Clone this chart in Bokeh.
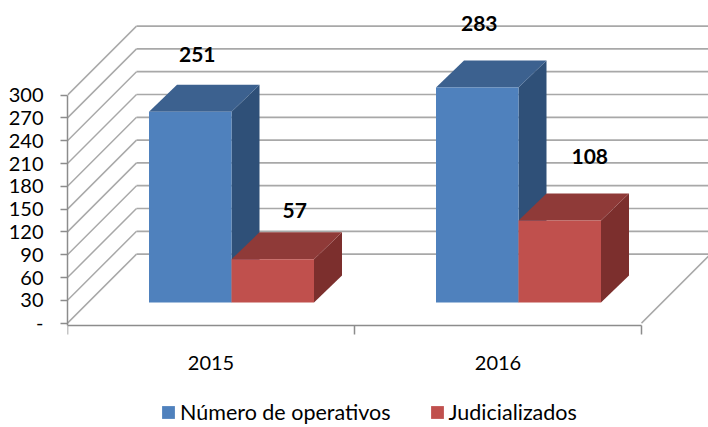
from bokeh.plotting import figure
from bokeh.models import Range1d, FixedTicker, ColumnDataSource, Legend, LegendItem
from bokeh.core.properties import value
from bokeh.embed import file_html
from bokeh.resources import INLINE

years = ["2015", "2016"]
operativos = [251, 283]
judicializados = [57, 108]
y_ticks = [0, 30, 60, 90, 120, 150, 180, 210, 240, 270, 300]
series_names = ["Número de operativos", "Judicializados"]

FONT = "Lato"
# projection, in pixels of the frame
PX_X = 287.0          # pixels per category
PX_Y = 0.76           # pixels per value unit
WALL = 69             # depth of the floor
BAR_DEPTH = (28, 27)
BAR_GAP = 20.5
BAR_W = 82.5 / PX_X

def ox(px): return px / PX_X
def oy(px): return px / PX_Y

frame_w, frame_h = 641, 427
y0 = -2.5
floor_px = 324.5       # frame top to floor line
y_end = y0 + floor_px / PX_Y
p = figure(width=708, height=427, output_backend="svg", toolbar_location=None,
           x_range=Range1d(0, frame_w / PX_X), y_range=Range1d(y_end - frame_h / PX_Y, y_end),
           min_border_left=67, min_border_right=0, min_border_top=0, min_border_bottom=0,
           outline_line_color=None, background_fill_color="white", border_fill_color="white")
p.grid.visible = False

GRID = "#a8a8a8"
AX = "#8c8c8c"
# wall lines and floor diagonals
n_cat = len(years)
for v in y_ticks:
    p.line([0, ox(WALL)], [v, v + oy(WALL)], line_color=GRID, line_width=1.5)
    p.line([ox(WALL), n_cat + ox(WALL)], [v + oy(WALL)] * 2, line_color=GRID, line_width=1.7)
p.line([n_cat, n_cat + ox(WALL)], [0, oy(WALL)], line_color=GRID, line_width=1.5)

def box(cat_left, val, front, top, side):
    l = cat_left
    r = l + BAR_W
    b = oy(BAR_GAP)
    t = b + val
    dx, dy = ox(BAR_DEPTH[0]), oy(BAR_DEPTH[1])
    p.patch([r, r + dx, r + dx, r], [b, b + dy, t + dy, t], fill_color=side, line_color=None)
    p.patch([l, l + dx, r + dx, r], [t, t + dy, t + dy, t], fill_color=top, line_color=None)
    return p.quad(left=[l], right=[r], bottom=[b], top=[t], fill_color=front, line_color=None)

legend_r = [None, None]
for i in range(n_cat):
    c = i + 0.5 + ox(BAR_GAP)
    legend_r[0] = box(c - BAR_W, operativos[i], "#4f81bd", "#3c618f", "#2f5078")
    legend_r[1] = box(c, judicializados[i], "#c0504d", "#8f3a38", "#7c2f2d")

# value labels
label_x = [i + 0.5 + ox(BAR_GAP) + k for i in range(n_cat) for k in (-BAR_W / 2, BAR_W / 2)]
label_y = [oy(BAR_GAP) + operativos[0], oy(BAR_GAP) + judicializados[0],
           oy(BAR_GAP) + operativos[1], oy(BAR_GAP) + judicializados[1]]
label_t = [str(operativos[0]), str(judicializados[0]), str(operativos[1]), str(judicializados[1])]
nudge_x = [7, 22, 2, 30]
nudge_y = [-57, -49, -64, -64]
p.text(x="x", y="y", text="t", x_offset="dx", y_offset="dy",
       source=ColumnDataSource(dict(x=label_x, y=label_y, t=label_t, dx=nudge_x, dy=nudge_y)),
       text_font=value(FONT), text_font_style="bold", text_font_size="21px",
       text_align="center", text_baseline="middle", text_color="#000000")

# axes
ya = p.yaxis[0]
ya.ticker = FixedTicker(ticks=y_ticks)
ya.major_label_overrides = {v: (str(v) if v else "-") for v in y_ticks}
ya.bounds = (y0, 300)
ya.major_tick_in = 0
ya.major_tick_out = 7
ya.minor_tick_in = 0
ya.minor_tick_out = 0
ya.major_label_standoff = 17
ya.axis_line_color = AX
ya.axis_line_width = 1.5
ya.major_tick_line_color = AX
ya.major_tick_line_width = 1.5
ya.major_label_text_font = FONT
ya.major_label_text_font_size = "20px"
ya.major_label_text_color = "#000000"

xa = p.xaxis[0]
xa.fixed_location = y0
xa.ticker = FixedTicker(ticks=[i + 0.5 for i in range(n_cat)], minor_ticks=list(range(n_cat + 1)))
xa.major_label_overrides = {i + 0.5: years[i] for i in range(n_cat)}
xa.bounds = (0, n_cat)
xa.major_tick_in = 0
xa.major_tick_out = 0
xa.minor_tick_in = 0
xa.minor_tick_out = 9
xa.major_label_standoff = 22
xa.axis_line_color = AX
xa.axis_line_width = 1.5
xa.minor_tick_line_color = AX
xa.minor_tick_line_width = 1.5
xa.major_label_text_font = FONT
xa.major_label_text_font_size = "20px"
xa.major_label_text_color = "#000000"

legend = Legend(items=[LegendItem(label=series_names[0], renderers=[legend_r[0]]),
                       LegendItem(label=series_names[1], renderers=[legend_r[1]])],
                orientation="horizontal", location=(93, 2), border_line_color=None,
                background_fill_alpha=0, glyph_width=16, glyph_height=16, spacing=38,
                label_standoff=4, margin=0, padding=2,
                label_text_font=FONT, label_text_font_size="21.5px", label_text_color="#000000")
p.add_layout(legend, "center")

open("out.html", "w").write(file_html(p, INLINE))
